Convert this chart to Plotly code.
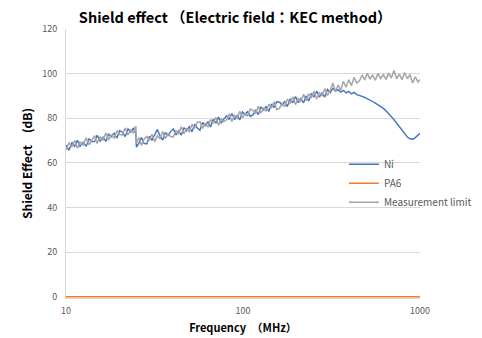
import plotly.graph_objects as go

freq = [
    10, 10.4, 10.8, 11.2, 11.6, 12, 12.5, 13, 13.5, 14,
    14.5, 15, 15.6, 16.2, 16.8, 17.4, 18, 18.7, 19.4, 20.1,
    20.8, 21.6, 22.4, 23.2, 24, 24.8, 25, 25.8, 26.7, 27.6,
    28.6, 29.6, 30.6, 31.7, 32.8, 34, 35.2, 36.4, 37.7, 39,
    40.4, 41.8, 43.3, 44.8, 46.4, 48, 49.7, 51.5, 53.3, 55.2,
    57.1, 59.1, 61.2, 63.4, 65.6, 67.9, 70.3, 72.8, 75.4, 78,
    80.8, 83.6, 86.5, 89.6, 92.7, 96, 99.4, 103, 106, 110,
    114, 118, 122, 126, 131, 135, 140, 145, 150, 155,
    161, 166, 172, 178, 185, 191, 198, 205, 212, 220,
    227, 235, 244, 252, 261, 270, 280, 290, 300, 311,
    322, 333, 345, 357, 369, 382, 396, 410, 424, 439,
    455, 471, 487, 504, 522, 540, 559, 579, 600, 621,
    643, 665, 689, 713, 738, 764, 791, 819, 848, 878,
    909, 941, 974, 1000,
]

ni = [
    67.9, 65.6, 69.1, 67.4, 70.1, 67.4, 69.2, 67.4, 70.8, 69.4,
    69.6, 72.3, 69.7, 71.5, 69.6, 73.0, 71.6, 73.3, 71.1, 74.5,
    73.7, 71.8, 75.2, 73.8, 75.5, 73.2, 67.0, 68.7, 71.4, 68.7,
    68.5, 71.9, 70.2, 73.0, 74.9, 72.1, 70.2, 73.6, 72.2, 74.0,
    75.2, 72.5, 74.3, 72.4, 75.8, 74.4, 76.2, 73.9, 77.3, 75.6,
    74.6, 78.1, 76.7, 78.4, 76.1, 79.5, 77.8, 80.5, 77.8, 79.7,
    81.1, 79.4, 82.1, 79.4, 81.2, 79.3, 82.8, 81.4, 83.1, 80.8,
    81.6, 83.5, 81.6, 85.0, 83.6, 85.3, 83.0, 86.4, 84.8, 87.4,
    87.2, 85.8, 87.5, 85.2, 88.7, 87.0, 89.7, 87.0, 88.8, 86.9,
    90.0, 87.7, 91.2, 89.5, 92.2, 89.5, 91.3, 89.5, 92.9, 91.5,
    93.4, 92.1, 92.8, 91.7, 92.5, 91.4, 92.0, 90.9, 91.6, 90.6,
    90.3, 89.8, 89.3, 88.8, 88.3, 87.5, 86.8, 86.0, 85.3, 84.4,
    83.3, 82.2, 80.7, 79.3, 77.8, 76.2, 74.6, 73.0, 71.6, 70.8,
    70.6, 71.3, 72.4, 73.3,
]

limit = [
    65.7, 68.9, 67.3, 70.0, 66.5, 69.3, 68.0, 71.2, 68.1, 70.3,
    72.2, 68.7, 71.6, 70.3, 73.4, 70.3, 72.5, 71.1, 74.4, 72.7,
    72.5, 75.6, 72.5, 74.7, 73.3, 76.5, 68.6, 71.3, 67.8, 70.6,
    71.8, 70.1, 72.8, 69.4, 72.2, 70.9, 74.0, 70.9, 73.1, 71.8,
    71.6, 74.4, 73.1, 76.2, 73.1, 75.3, 74.0, 77.2, 75.5, 78.2,
    78.4, 75.4, 77.6, 76.2, 79.4, 77.7, 80.4, 76.9, 79.7, 78.5,
    79.3, 82.0, 78.5, 81.3, 80.0, 83.1, 80.1, 82.3, 80.9, 84.1,
    83.5, 82.3, 85.4, 82.3, 84.5, 83.1, 86.3, 84.6, 87.4, 83.8,
    84.5, 86.7, 85.3, 88.5, 86.9, 89.6, 86.1, 88.9, 87.6, 90.7,
    87.8, 91.0, 89.4, 92.1, 88.6, 91.4, 90.1, 93.3, 90.2, 92.4,
    95.8, 92.0, 94.9, 92.6, 96.5, 93.9, 97.2, 94.6, 98.3, 95.8,
    96.8, 99.4, 97.2, 100.1, 97.5, 99.3, 97.0, 100.0, 97.8, 99.5,
    97.4, 100.2, 98.0, 101.4, 97.6, 99.8, 97.3, 100.5, 97.7, 99.6,
    95.8, 98.6, 96.2, 97.4,
]

pa6_freq = [10, 1000]
pa6 = [0, 0]

y_ticks = [0, 20, 40, 60, 80, 100, 120]
x_ticks = [10, 100, 1000]
x_ticktext = ["10", "100", "1000"]

FONT = "Noto Sans CJK JP"
fig = go.Figure()
fig.add_trace(go.Scatter(x=freq, y=ni, mode="lines", name="Ni",
                         line=dict(color="#4472C4", width=1.4)))
fig.add_trace(go.Scatter(x=pa6_freq, y=pa6, mode="lines", name="PA6",
                         line=dict(color="#ED7D31", width=1.5)))
fig.add_trace(go.Scatter(x=freq, y=limit, mode="lines", name="Measurement limit",
                         line=dict(color="#A5A5A5", width=1.5)))

fig.update_layout(
    width=482, height=338,
    margin=dict(l=66, r=62, t=29, b=40, autoexpand=False),
    paper_bgcolor="white", plot_bgcolor="white",
    font=dict(family=FONT, color="#595959", size=9),
    title=dict(text="<b>Shield effect （Electric field：KEC method）</b>",
               font=dict(family=FONT, size=14.5, color="#000000"),
               x=0.488, xanchor="center", y=0.947, yanchor="middle", yref="container"),
    showlegend=True,
    legend=dict(x=0.785, y=0.551, xanchor="left", yanchor="top",
                bgcolor="rgba(255,255,255,0)", font=dict(size=10, color="#595959"),
                tracegroupgap=0),
)
fig.update_xaxes(type="log", range=[1, 3], tickvals=x_ticks, ticktext=x_ticktext,
                 showgrid=False, showline=True, linecolor="#d9d9d9", zeroline=False,
                 ticks="", ticklabelstandoff=4, automargin=False,
                 title=dict(text="<b>Frequency　（MHz）</b>",
                            font=dict(family=FONT, size=11, color="#000000"), standoff=8))
fig.update_yaxes(range=[-0.6, 120], tickvals=y_ticks, showgrid=True, gridcolor="#d9d9d9",
                 showline=True, linecolor="#d9d9d9", zeroline=False, ticks="",
                 ticklabelstandoff=6, automargin=False,
                 title=dict(text="<b>Shield Effect　(dB)</b>",
                            font=dict(family=FONT, size=12, color="#000000"), standoff=7))

fig.write_html("out.html")
